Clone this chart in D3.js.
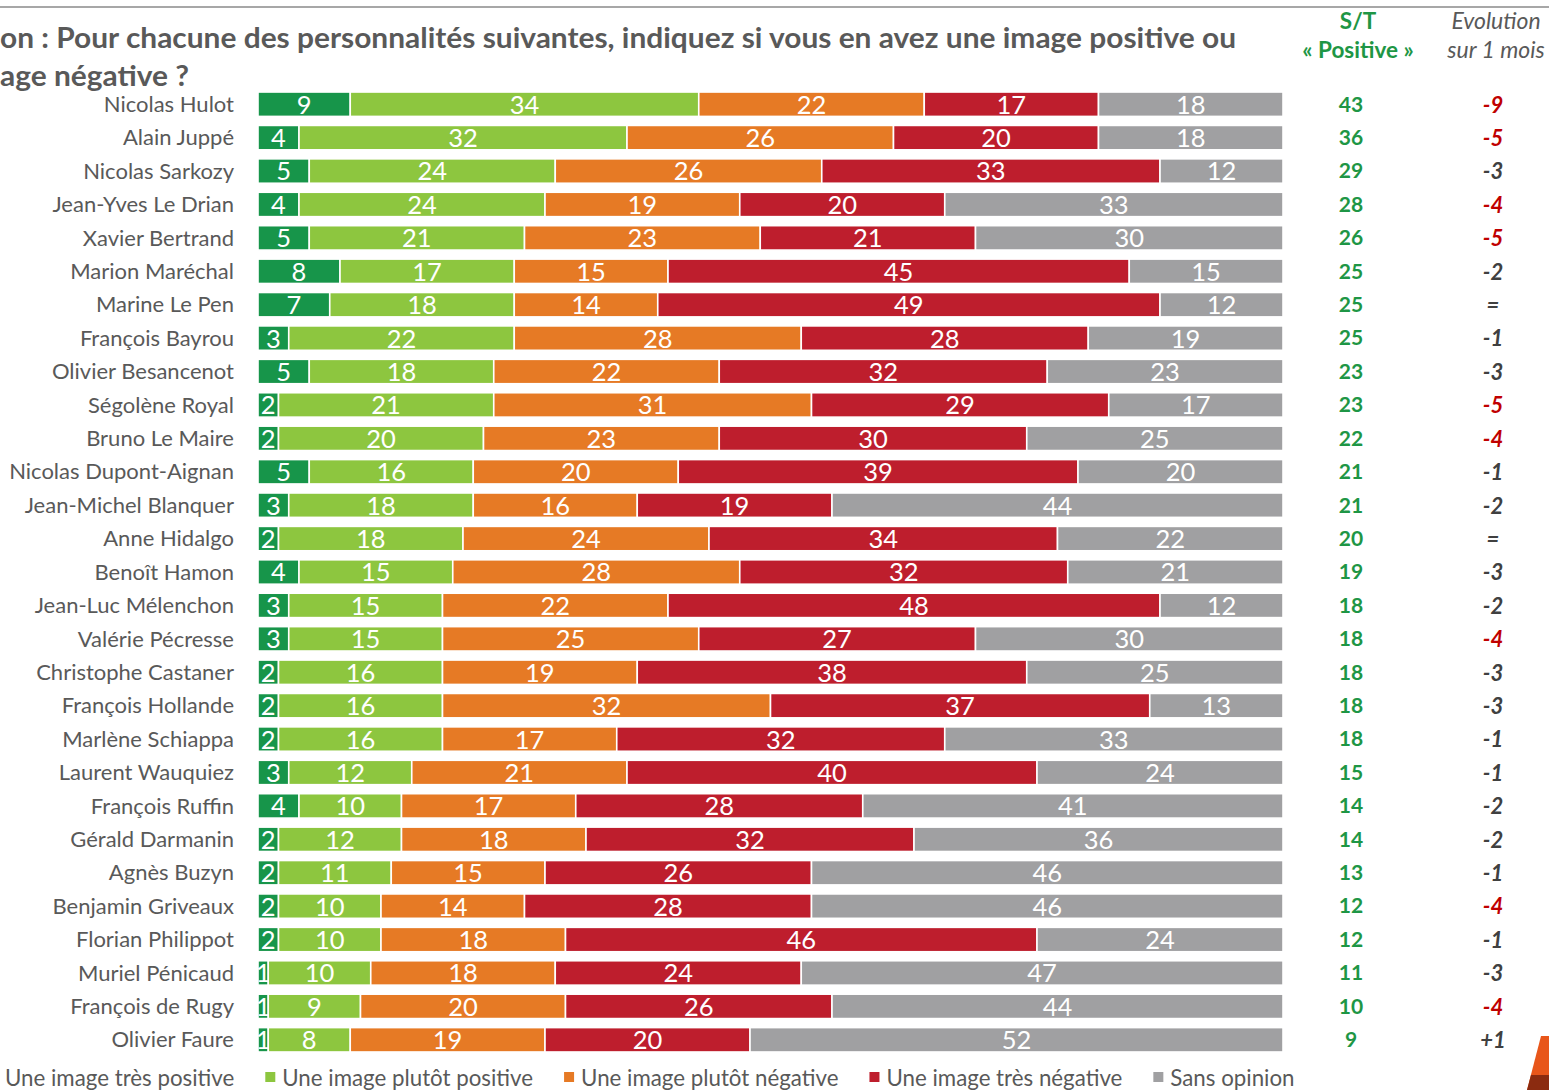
<!DOCTYPE html>
<html lang="fr">
<head>
<meta charset="utf-8">
<title>Image des personnalités</title>
<script src="https://cdnjs.cloudflare.com/ajax/libs/d3/7.8.5/d3.min.js"></script>
<style>
  html, body { margin: 0; padding: 0; background: #fff; overflow: hidden; }
  svg { display: block; font-family: Lato, "Open Sans", sans-serif; }
</style>
</head>
<body>
<div id="chart"></div>
<script>
// data
const names = ['Nicolas Hulot', 'Alain Juppé', 'Nicolas Sarkozy', 'Jean-Yves Le Drian', 'Xavier Bertrand',
  'Marion Maréchal', 'Marine Le Pen', 'François Bayrou', 'Olivier Besancenot', 'Ségolène Royal',
  'Bruno Le Maire', 'Nicolas Dupont-Aignan', 'Jean-Michel Blanquer', 'Anne Hidalgo', 'Benoît Hamon',
  'Jean-Luc Mélenchon', 'Valérie Pécresse', 'Christophe Castaner', 'François Hollande', 'Marlène Schiappa',
  'Laurent Wauquiez', 'François Ruffin', 'Gérald Darmanin', 'Agnès Buzyn', 'Benjamin Griveaux',
  'Florian Philippot', 'Muriel Pénicaud', 'François de Rugy', 'Olivier Faure'];
const tresPositive   = [9, 4, 5, 4, 5, 8, 7, 3, 5, 2, 2, 5, 3, 2, 4, 3, 3, 2, 2, 2, 3, 4, 2, 2, 2, 2, 1, 1, 1];
const plutotPositive = [34, 32, 24, 24, 21, 17, 18, 22, 18, 21, 20, 16, 18, 18, 15, 15, 15, 16, 16, 16, 12, 10, 12, 11, 10, 10, 10, 9, 8];
const plutotNegative = [22, 26, 26, 19, 23, 15, 14, 28, 22, 31, 23, 20, 16, 24, 28, 22, 25, 19, 32, 17, 21, 17, 18, 15, 14, 18, 18, 20, 19];
const tresNegative   = [17, 20, 33, 20, 21, 45, 49, 28, 32, 29, 30, 39, 19, 34, 32, 48, 27, 38, 37, 32, 40, 28, 32, 26, 28, 46, 24, 26, 20];
const sansOpinion    = [18, 18, 12, 33, 30, 15, 12, 19, 23, 17, 25, 20, 44, 22, 21, 12, 30, 25, 13, 33, 24, 41, 36, 46, 46, 24, 47, 44, 52];
const stPositive = [43, 36, 29, 28, 26, 25, 25, 25, 23, 23, 22, 21, 21, 20, 19, 18, 18, 18, 18, 18, 15, 14, 14, 13, 12, 12, 11, 10, 9];
const evolution = ['-9', '-5', '-3', '-4', '-5', '-2', '=', '-1', '-3', '-5', '-4', '-1', '-2', '=', '-3',
  '-2', '-4', '-3', '-3', '-1', '-1', '-2', '-2', '-1', '-4', '-1', '-3', '-4', '+1'];
const keys = ['tresPositive', 'plutotPositive', 'plutotNegative', 'tresNegative', 'sansOpinion'];
const legendLabels = ['Une image très positive', 'Une image plutôt positive', 'Une image plutôt négative',
  'Une image très négative', 'Sans opinion'];
const titleLines = ['Question : Pour chacune des personnalités suivantes, indiquez si vous en avez une image positive ou',
  'une image négative ?'];

const w = 1549;
const h = 1090;
const colors = ['#17954A', '#8DC63F', '#E67A25', '#BE1E2D', '#A0A0A2'];
const textGray = '#595959';

const table = names.map((n, i) => ({
  name: n,
  tresPositive: tresPositive[i],
  plutotPositive: plutotPositive[i],
  plutotNegative: plutotNegative[i],
  tresNegative: tresNegative[i],
  sansOpinion: sansOpinion[i]
}));

const svg = d3.select('#chart').append('svg')
  .attr('width', w)
  .attr('height', h);

const xScale = d3.scaleLinear().domain([0, 100]).range([258, 1283]);
const yScale = d3.scaleBand().domain(names).range([83, 1061]).paddingInner(0.27).paddingOuter(0.27);
const color = d3.scaleOrdinal().domain(keys).range(colors);

// top rule
svg.append('line')
  .attr('x1', 0).attr('x2', w)
  .attr('y1', 7).attr('y2', 7)
  .attr('stroke', '#8a8a8a')
  .attr('stroke-width', 1.5);

// title, cut at the left edge like the slide
const titleStyle = sel => sel.attr('font-size', 28).attr('font-weight', 700).attr('fill', textGray);
const probe = svg.append('text').call(titleStyle);
const measure = s => { probe.text(s); return probe.node().getComputedTextLength(); };
const fullW = measure(titleLines[0]);
const hiddenW = measure('Questi');
const k = 1236 / (fullW - hiddenW);
const line2W = measure(titleLines[1]);
const hidden2W = measure('une im');
probe.remove();

svg.append('text').call(titleStyle)
  .attr('x', 1236 - fullW * k)
  .attr('y', 48)
  .attr('textLength', fullW * k)
  .attr('lengthAdjust', 'spacingAndGlyphs')
  .text(titleLines[0]);
svg.append('text').call(titleStyle)
  .attr('x', -hidden2W * k)
  .attr('y', 86)
  .attr('textLength', line2W * k)
  .attr('lengthAdjust', 'spacingAndGlyphs')
  .text(titleLines[1]);

// column headers
const headers = [
  { x: 1358, lines: ['S/T', '« Positive »'], fill: '#1E9645', weight: 700, style: 'normal', size: 22.5 },
  { x: 1496, lines: ['Evolution', 'sur 1 mois'], fill: textGray, weight: 400, style: 'italic', size: 23 }
];
headers.forEach(hd => {
  hd.lines.forEach((l, j) => {
    svg.append('text')
      .attr('x', hd.x)
      .attr('y', 29 + j * 29)
      .attr('text-anchor', 'middle')
      .attr('font-size', hd.size)
      .attr('font-weight', hd.weight)
      .attr('font-style', hd.style)
      .attr('fill', hd.fill)
      .text(l);
  });
});

// stacked bars
const series = d3.stack().keys(keys)(table);

const layer = svg.selectAll('.layer')
  .data(series)
  .enter()
  .append('g')
  .attr('class', 'layer')
  .attr('fill', d => color(d.key));

layer.selectAll('rect')
  .data(d => d)
  .enter()
  .append('rect')
  .attr('x', d => xScale(d[0]))
  .attr('y', d => yScale(d.data.name))
  .attr('width', d => xScale(d[1]) - xScale(d[0]))
  .attr('height', yScale.bandwidth())
  .attr('stroke', '#fff')
  .attr('stroke-width', 1.6);

layer.selectAll('text')
  .data(d => d)
  .enter()
  .append('text')
  .attr('x', d => (xScale(d[0]) + xScale(d[1])) / 2)
  .attr('y', d => yScale(d.data.name) + yScale.bandwidth() / 2)
  .attr('dy', '0.37em')
  .attr('text-anchor', 'middle')
  .attr('font-size', 25.5)
  .attr('font-weight', 400)
  .attr('fill', '#fff')
  .text(d => d[1] - d[0]);

// row labels
svg.selectAll('.name')
  .data(names)
  .enter()
  .append('text')
  .attr('class', 'name')
  .attr('x', 234)
  .attr('y', d => yScale(d) + yScale.bandwidth() / 2)
  .attr('dy', '0.35em')
  .attr('text-anchor', 'end')
  .attr('font-size', 22)
  .attr('fill', textGray)
  .text(d => d);

// S/T positive column
svg.selectAll('.st')
  .data(stPositive)
  .enter()
  .append('text')
  .attr('class', 'st')
  .attr('x', 1351)
  .attr('y', (d, i) => yScale(names[i]) + yScale.bandwidth() / 2)
  .attr('dy', '0.35em')
  .attr('text-anchor', 'middle')
  .attr('font-size', 21)
  .attr('font-weight', 700)
  .attr('fill', '#1E9645')
  .text(d => d);

// evolution column
svg.selectAll('.evo')
  .data(evolution)
  .enter()
  .append('text')
  .attr('class', 'evo')
  .attr('x', 1493)
  .attr('y', (d, i) => yScale(names[i]) + yScale.bandwidth() / 2)
  .attr('dy', '0.38em')
  .attr('text-anchor', 'middle')
  .attr('font-size', 22)
  .attr('font-weight', 700)
  .attr('font-style', 'italic')
  .attr('fill', d => (+d <= -4 ? '#C00000' : '#404040'))
  .text(d => d);

// legend
const legend = svg.append('g').attr('id', 'legend');
let lx = 5;
legendLabels.forEach((l, i) => {
  legend.append('rect')
    .attr('x', lx - 17)
    .attr('y', 1072)
    .attr('width', 10)
    .attr('height', 10)
    .attr('fill', colors[i]);
  const t = legend.append('text')
    .attr('x', lx)
    .attr('y', 1086)
    .attr('font-size', 22.3)
    .attr('fill', textGray)
    .text(l);
  lx += t.node().getComputedTextLength() + 31 + 17;
});

// corner decoration
svg.append('polygon')
  .attr('points', '1527,1090 1541,1036 1549,1036 1549,1090')
  .attr('fill', '#E8561A');
svg.append('polygon')
  .attr('points', '1527,1090 1531,1075 1549,1075 1549,1090')
  .attr('fill', '#8B2B10');
</script>
</body>
</html>
